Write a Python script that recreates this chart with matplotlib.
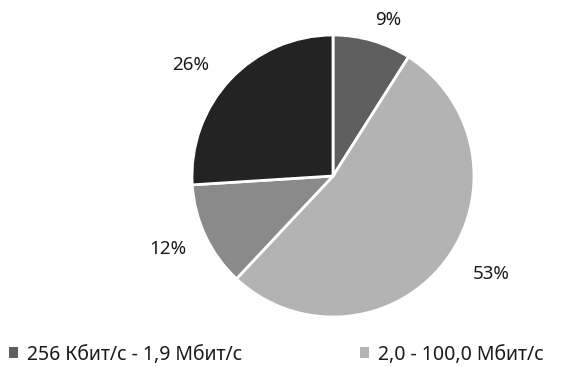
import matplotlib.pyplot as plt
from matplotlib.patches import Patch
import numpy as np

plt.rcParams["font.family"] = ["Noto Sans", "DejaVu Sans"]

# slices, clockwise from 12 o'clock
shares = [9, 53, 12, 26]
pct_labels = ["9%", "53%", "12%", "26%"]
legend_names = ["256 Кбит/с - 1,9 Мбит/с", "2,0 - 100,0 Мбит/с"]
colors = ["#5f5f5f", "#b3b3b3", "#8a8a8a", "#232323"]

# label placement: radial distance and angular nudge (deg) from wedge middle
label_dist = [1.17, 1.32, 1.28, 1.28]
label_nudge = [-3.3, 6.2, -1.2, 5.2]

W, H = 562, 366
fig = plt.figure(figsize=(W / 100, H / 100), dpi=100)
cx, cy, r, half = 333, 190, 141, 150
ax = fig.add_axes([(cx - half) / W, (cy - half) / H, 2 * half / W, 2 * half / H])

wedges, _ = ax.pie(
    shares,
    colors=colors,
    startangle=90,
    counterclock=False,
    radius=1,
    wedgeprops={"edgecolor": "white", "linewidth": 2},
)
lim = half / r
ax.set_xlim(-lim, lim)
ax.set_ylim(-lim, lim)
ax.set_aspect("equal")
ax.axis("off")

fs = 13.5
for w, txt, d, nd in zip(wedges, pct_labels, label_dist, label_nudge):
    ang = np.deg2rad((w.theta1 + w.theta2) / 2 + nd)
    ax.text(d * np.cos(ang), d * np.sin(ang), txt, ha="center", va="center",
            fontsize=fs, color="#1a1a1a")

leg_kw = dict(
    loc="lower left",
    frameon=False,
    fontsize=14,
    handlelength=0.45,
    handleheight=0.45,
    handletextpad=0.5,
    borderpad=0,
    borderaxespad=0,
    labelcolor="#1a1a1a",
)
for i, x0 in enumerate([9, 360]):
    fig.legend([Patch(facecolor=colors[i], edgecolor="none")], [legend_names[i]],
               bbox_to_anchor=(x0 / W, 0.004), **leg_kw)

fig.savefig("out.png", dpi=100)
